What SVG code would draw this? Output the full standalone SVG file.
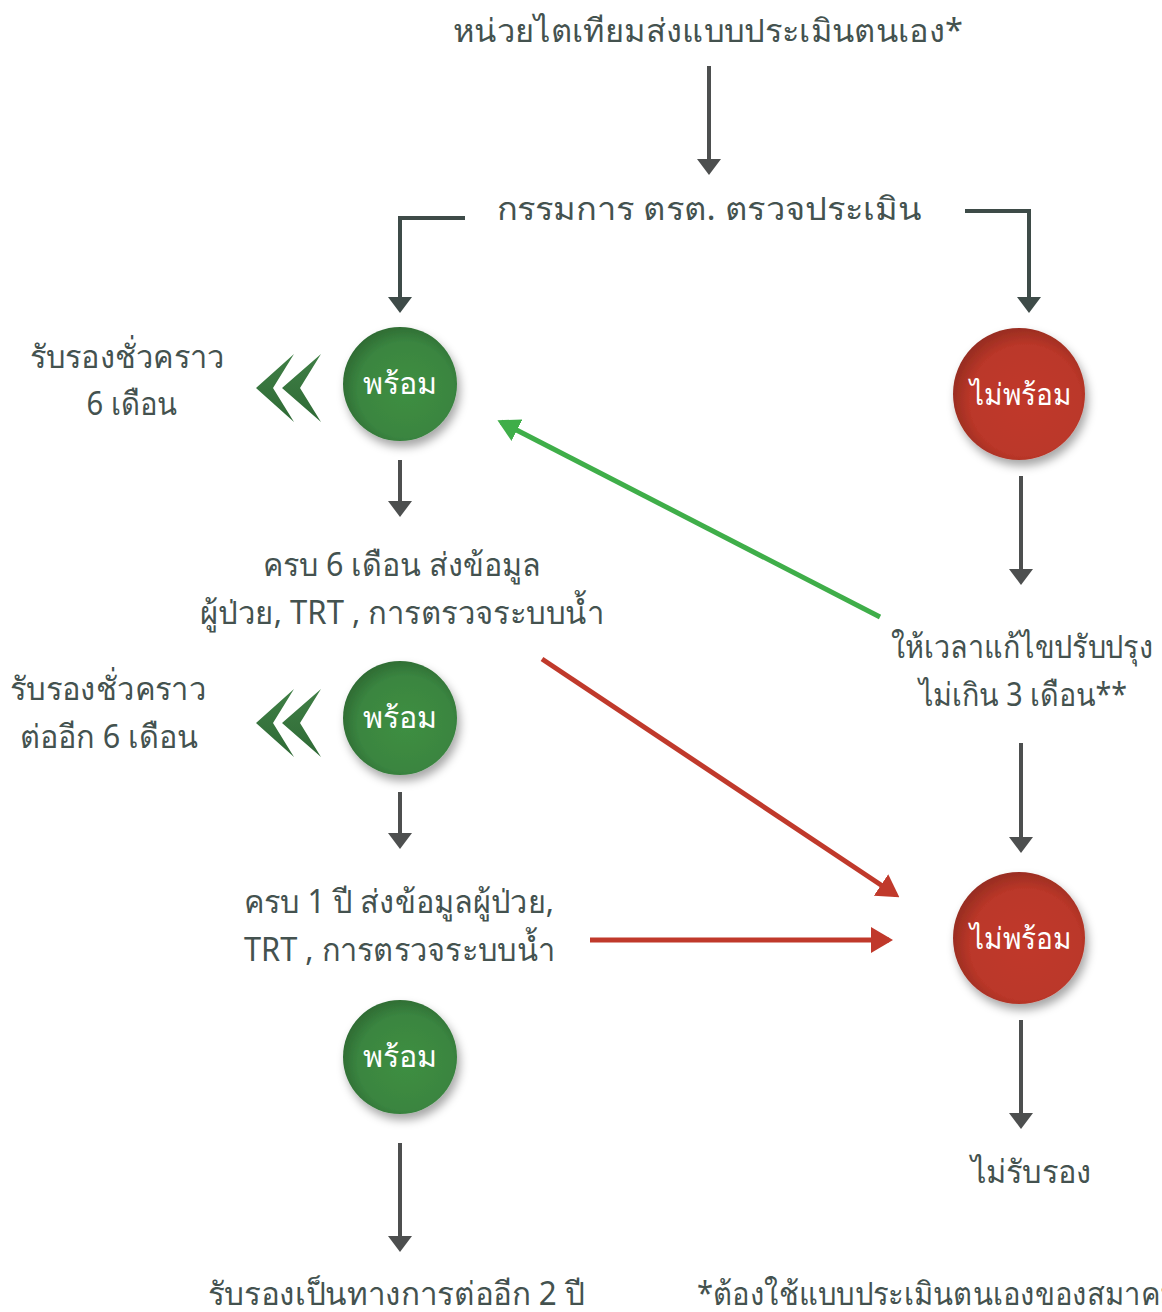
<svg xmlns="http://www.w3.org/2000/svg" width="1162" height="1312" viewBox="0 0 1162 1312">
<style>
  .t{font-family:"Noto Sans","Liberation Sans",sans-serif;font-size:32px;fill:#44524f}
  .m{text-anchor:middle}
  .c{font-family:"Noto Sans","Liberation Sans",sans-serif;font-size:30px;fill:#ffffff;text-anchor:middle}
  .g{stroke:#4d4f4f;stroke-width:4;fill:none}
  .e{stroke:#3e4b48;stroke-width:4;fill:none}
</style>
<defs>
  <marker id="ah" markerUnits="userSpaceOnUse" markerWidth="16" markerHeight="24" viewBox="0 0 16 24" refX="12" refY="12" orient="auto">
    <path d="M0,0 L16,12 L0,24 z" fill="#4d4f4f"/>
  </marker>
  <marker id="ahe" markerUnits="userSpaceOnUse" markerWidth="16" markerHeight="24" viewBox="0 0 16 24" refX="12" refY="12" orient="auto">
    <path d="M0,0 L16,12 L0,24 z" fill="#3e4b48"/>
  </marker>
  <marker id="agr" markerUnits="userSpaceOnUse" markerWidth="22" markerHeight="24" viewBox="0 0 22 24" refX="18" refY="12" orient="auto">
    <path d="M0,0 L22,12 L0,24 z" fill="#3fae49"/>
  </marker>
  <marker id="ard" markerUnits="userSpaceOnUse" markerWidth="22" markerHeight="26" viewBox="0 0 22 26" refX="18" refY="13" orient="auto">
    <path d="M0,0 L22,13 L0,26 z" fill="#c0392b"/>
  </marker>
  <radialGradient id="gg" cx="0.55" cy="0.55" r="0.6">
    <stop offset="0" stop-color="#3f8f42"/>
    <stop offset="0.7" stop-color="#3a8540"/>
    <stop offset="1" stop-color="#2c6630"/>
  </radialGradient>
  <radialGradient id="rg" cx="0.55" cy="0.55" r="0.6">
    <stop offset="0" stop-color="#c0392b"/>
    <stop offset="0.7" stop-color="#bb3729"/>
    <stop offset="1" stop-color="#8e2a1e"/>
  </radialGradient>
  <linearGradient id="chev" x1="0" y1="0" x2="0" y2="1">
    <stop offset="0" stop-color="#3f7f45"/>
    <stop offset="1" stop-color="#2f6a36"/>
  </linearGradient>
  <filter id="sh" x="-30%" y="-30%" width="170%" height="170%">
    <feDropShadow dx="3" dy="6" stdDeviation="5" flood-color="#000" flood-opacity="0.35"/>
  </filter>
  <g id="chv">
    <path d="M38,0 L0,34 L38,68 L17,34 z" fill="url(#chev)"/>
    <path d="M65,0 L26,34 L65,68 L44,34 z" fill="url(#chev)"/>
  </g>
</defs>

<g id="connectors">
  <line class="g" x1="709" y1="66" x2="709" y2="171" marker-end="url(#ah)"/>
  <polyline class="e" points="465,218 400,218 400,309" marker-end="url(#ahe)"/>
  <polyline class="e" points="965,211 1029,211 1029,309" marker-end="url(#ahe)"/>
  <line class="g" x1="400" y1="460" x2="400" y2="513" marker-end="url(#ah)"/>
  <line class="g" x1="400" y1="792" x2="400" y2="845" marker-end="url(#ah)"/>
  <line class="g" x1="400" y1="1143" x2="400" y2="1248" marker-end="url(#ah)"/>
  <line class="g" x1="1021" y1="476" x2="1021" y2="581" marker-end="url(#ah)"/>
  <line class="g" x1="1021" y1="743" x2="1021" y2="849" marker-end="url(#ah)"/>
  <line class="g" x1="1021" y1="1020" x2="1021" y2="1125" marker-end="url(#ah)"/>
  <line x1="880" y1="617" x2="501" y2="422" stroke="#3fae49" stroke-width="5" marker-end="url(#agr)"/>
  <line x1="542" y1="659" x2="896" y2="895" stroke="#c0392b" stroke-width="5" marker-end="url(#ard)"/>
  <line x1="590" y1="940" x2="889" y2="940" stroke="#c0392b" stroke-width="5" marker-end="url(#ard)"/>
</g>

<g id="n-title"><text class="t m" x="708" y="42" textLength="510" lengthAdjust="spacingAndGlyphs">หน่วยไตเทียมส่งแบบประเมินตนเอง*</text></g>
<g id="n-committee"><text class="t m" x="709" y="220" textLength="425" lengthAdjust="spacingAndGlyphs">กรรมการ ตรต. ตรวจประเมิน</text></g>

<g id="n-ready1">
  <circle cx="400" cy="384" r="57" fill="url(#gg)" filter="url(#sh)"/>
  <text class="c" x="400" y="394" textLength="75" lengthAdjust="spacingAndGlyphs">พร้อม</text>
</g>
<g id="n-chev1"><use href="#chv" x="256" y="354"/></g>
<g id="n-temp1">
  <text class="t m" x="127" y="368" textLength="195" lengthAdjust="spacingAndGlyphs">รับรองชั่วคราว</text>
  <text class="t m" x="132" y="415" textLength="91" lengthAdjust="spacingAndGlyphs">6 เดือน</text>
</g>

<g id="n-notready1">
  <circle cx="1019" cy="394" r="66" fill="url(#rg)" filter="url(#sh)"/>
  <text class="c" x="1021" y="405" textLength="102" lengthAdjust="spacingAndGlyphs">ไม่พร้อม</text>
</g>

<g id="n-6m">
  <text class="t m" x="402" y="576" textLength="278" lengthAdjust="spacingAndGlyphs">ครบ 6 เดือน ส่งข้อมูล</text>
  <text class="t m" x="402" y="624" textLength="404" lengthAdjust="spacingAndGlyphs">ผู้ป่วย, TRT , การตรวจระบบน้ำ</text>
</g>

<g id="n-fix">
  <text class="t m" x="1022" y="658" textLength="262" lengthAdjust="spacingAndGlyphs">ให้เวลาแก้ไขปรับปรุง</text>
  <text class="t m" x="1023" y="706" textLength="208" lengthAdjust="spacingAndGlyphs">ไม่เกิน 3 เดือน**</text>
</g>

<g id="n-ready2">
  <circle cx="400" cy="718" r="57" fill="url(#gg)" filter="url(#sh)"/>
  <text class="c" x="400" y="728" textLength="75" lengthAdjust="spacingAndGlyphs">พร้อม</text>
</g>
<g id="n-chev2"><use href="#chv" x="256" y="689"/></g>
<g id="n-temp2">
  <text class="t m" x="108" y="700" textLength="196" lengthAdjust="spacingAndGlyphs">รับรองชั่วคราว</text>
  <text class="t m" x="109" y="748" textLength="178" lengthAdjust="spacingAndGlyphs">ต่ออีก 6 เดือน</text>
</g>

<g id="n-1y">
  <text class="t" x="244" y="913" textLength="310" lengthAdjust="spacingAndGlyphs">ครบ 1 ปี ส่งข้อมูลผู้ป่วย,</text>
  <text class="t" x="244" y="961" textLength="311" lengthAdjust="spacingAndGlyphs">TRT , การตรวจระบบน้ำ</text>
</g>

<g id="n-notready2">
  <circle cx="1019" cy="938" r="66" fill="url(#rg)" filter="url(#sh)"/>
  <text class="c" x="1021" y="949" textLength="102" lengthAdjust="spacingAndGlyphs">ไม่พร้อม</text>
</g>

<g id="n-ready3">
  <circle cx="400" cy="1057" r="57" fill="url(#gg)" filter="url(#sh)"/>
  <text class="c" x="400" y="1067" textLength="75" lengthAdjust="spacingAndGlyphs">พร้อม</text>
</g>

<g id="n-reject"><text class="t m" x="1031" y="1183" textLength="121" lengthAdjust="spacingAndGlyphs">ไม่รับรอง</text></g>
<g id="n-2y"><text class="t m" x="396" y="1305" textLength="377" lengthAdjust="spacingAndGlyphs">รับรองเป็นทางการต่ออีก 2 ปี</text></g>
<g id="n-note"><text class="t" x="697" y="1305" textLength="482" lengthAdjust="spacingAndGlyphs">*ต้องใช้แบบประเมินตนเองของสมาคม</text></g>
</svg>
